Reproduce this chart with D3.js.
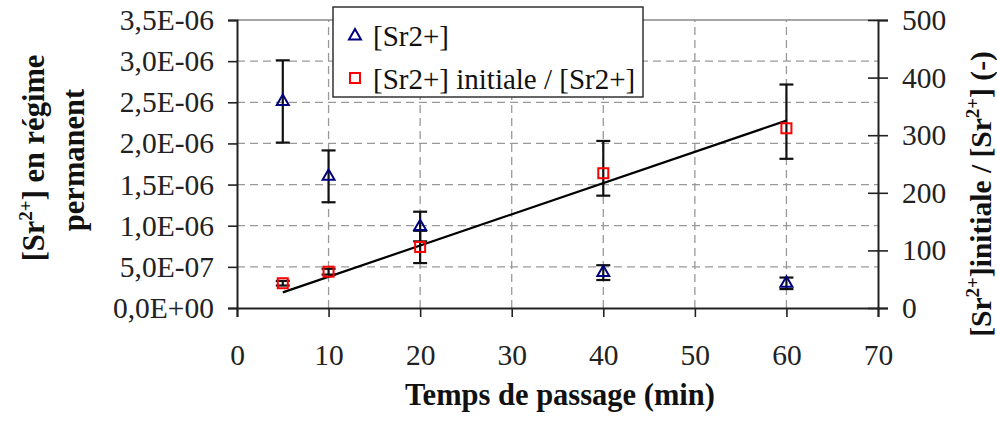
<!DOCTYPE html>
<html>
<head>
<meta charset="utf-8">
<script src="https://cdn.jsdelivr.net/npm/d3@7"></script>
<style>
  body { margin: 0; background: #fff; }
  text { font-family: 'Liberation Serif', serif; }
</style>
</head>
<body>
<div id="chart"></div>
<script>
// data
const times = [5, 10, 20, 40, 60];
const srConc = [2.51e-6, 1.6e-6, 0.99e-6, 4.3e-7, 3.0e-7];
const srErr = [0.5e-6, 0.315e-6, 0.18e-6, 0.09e-6, 0.07e-6];
const ratio = [43, 63, 106, 234, 312];
const ratioErrPlus = [4, 5, 28, 56, 76];
const ratioErrMinus = [4, 5, 28, 39, 53];

const xTicks = [0, 10, 20, 30, 40, 50, 60, 70];
const leftTicks = [0, 5e-7, 1e-6, 1.5e-6, 2e-6, 2.5e-6, 3e-6, 3.5e-6];
const rightTicks = [0, 100, 200, 300, 400, 500];

const W = 997, H = 423;
const FONT = 'Liberation Serif';
const svg = d3.select('#chart').append('svg')
    .attr('width', W)
    .attr('height', H);

const x = d3.scaleLinear().domain([0, 70]).range([237, 878]);
const yL = d3.scaleLinear().domain([0, 3.5e-6]).range([308, 20]);
const yR = d3.scaleLinear().domain([0, 500]).range([308, 20]);

// 3,5E-06 style labels
function sciFmt(v) {
    const [m, e] = v.toExponential(1).split('e');
    const n = +e;
    return m.replace('.', ',') + 'E' + (n < 0 ? '-' : '+') + String(Math.abs(n)).padStart(2, '0');
}

// grid
const grid = svg.append('g').attr('stroke', '#999').attr('stroke-width', 1.3).attr('stroke-dasharray', '8,5');
grid.selectAll('line.h')
    .data(leftTicks.filter(d => d > 0 && d < 3.5e-6))
    .enter().append('line')
    .attr('x1', x(0)).attr('x2', x(70))
    .attr('y1', d => yL(d)).attr('y2', d => yL(d));
grid.selectAll('line.v')
    .data(xTicks.filter(d => d > 0 && d < 70))
    .enter().append('line')
    .attr('y1', yL(0)).attr('y2', yL(3.5e-6))
    .attr('x1', d => x(d)).attr('x2', d => x(d));
svg.append('line')
    .attr('x1', x(0)).attr('x2', x(70))
    .attr('y1', yL(3.5e-6)).attr('y2', yL(3.5e-6))
    .attr('stroke', '#888').attr('stroke-width', 1.5);

// axes
const tickFont = 29.5;
const left = svg.append('g').attr('transform', `translate(${x(0)},0)`)
    .call(d3.axisLeft(yL).tickValues(leftTicks).tickFormat(sciFmt).tickSize(9).tickPadding(14));
const bottom = svg.append('g').attr('transform', `translate(0,${yL(0)})`)
    .call(d3.axisBottom(x).tickValues(xTicks).tickSize(9).tickPadding(27));
const right = svg.append('g').attr('transform', `translate(${x(70)},0)`)
    .call(d3.axisRight(yR).tickValues(rightTicks).tickSize(10).tickPadding(14));
right.selectAll('.tick line').attr('x1', -10);

[left, bottom, right].forEach(g => {
    g.attr('font-family', null);
    g.select('.domain').attr('stroke', '#222').attr('stroke-width', 2);
    g.selectAll('.tick line').attr('stroke', '#222').attr('stroke-width', 1.6);
    g.selectAll('.tick text')
        .style('font-family', FONT)
        .attr('font-size', tickFont)
        .attr('fill', '#222');
});

// error bars
const capW = 7;
function errorBars(vals, plus, minus, yScale) {
    const g = svg.append('g').attr('stroke', '#111').attr('stroke-width', 2.2).attr('fill', 'none');
    times.forEach((t, i) => {
        const cx = x(t), lo = yScale(vals[i] - minus[i]), hi = yScale(vals[i] + plus[i]);
        g.append('line').attr('x1', cx).attr('x2', cx).attr('y1', lo).attr('y2', hi);
        g.append('line').attr('x1', cx - capW).attr('x2', cx + capW).attr('y1', lo).attr('y2', lo);
        g.append('line').attr('x1', cx - capW).attr('x2', cx + capW).attr('y1', hi).attr('y2', hi);
    });
}
errorBars(ratio, ratioErrPlus, ratioErrMinus, yR);
errorBars(srConc, srErr, srErr, yL);

// trendline: least squares through the origin on the ratio series
const slope = d3.sum(times, (t, i) => t * ratio[i]) / d3.sum(times, t => t * t);
svg.append('line')
    .attr('x1', x(times[0])).attr('y1', yR(slope * times[0]))
    .attr('x2', x(times[times.length - 1])).attr('y2', yR(slope * times[times.length - 1]))
    .attr('stroke', '#000').attr('stroke-width', 2.2);

// markers
const tri = d3.symbol(d3.symbolTriangle, 62);
svg.append('g').selectAll('path')
    .data(times)
    .enter().append('path')
    .attr('d', tri)
    .attr('transform', (d, i) => `translate(${x(d)},${yL(srConc[i])})`)
    .attr('fill', 'none').attr('stroke', '#000080').attr('stroke-width', 2);

svg.append('g').selectAll('rect')
    .data(times)
    .enter().append('rect')
    .attr('x', d => x(d) - 5).attr('y', (d, i) => yR(ratio[i]) - 5)
    .attr('width', 10).attr('height', 10)
    .attr('fill', 'none').attr('stroke', '#ff0000').attr('stroke-width', 2);

// legend
const lg = svg.append('g');
lg.append('rect').attr('x', 333).attr('y', 7).attr('width', 310).attr('height', 90)
    .attr('fill', '#fff').attr('stroke', '#333').attr('stroke-width', 1.5);
lg.append('path').attr('d', tri).attr('transform', 'translate(355,36)')
    .attr('fill', 'none').attr('stroke', '#000080').attr('stroke-width', 2);
lg.append('rect').attr('x', 350).attr('y', 73).attr('width', 10).attr('height', 10)
    .attr('fill', 'none').attr('stroke', '#ff0000').attr('stroke-width', 2);
lg.append('text').attr('x', 373).attr('y', 46).attr('font-size', 29).attr('fill', '#111').text('[Sr2+]');
lg.append('text').attr('x', 373).attr('y', 89).attr('font-size', 29).attr('fill', '#111').text('[Sr2+] initiale / [Sr2+]');

// axis titles
const titleSize = 30.5;
svg.append('text')
    .attr('x', 560).attr('y', 405)
    .attr('text-anchor', 'middle')
    .attr('font-size', titleSize).attr('font-weight', 'bold').attr('fill', '#111')
    .text('Temps de passage (min)');

const lt = svg.append('text')
    .attr('transform', 'translate(44,158) rotate(-90)')
    .attr('text-anchor', 'middle')
    .attr('font-size', titleSize).attr('font-weight', 'bold').attr('fill', '#111');
lt.append('tspan').text('[Sr');
lt.append('tspan').attr('font-size', 19).attr('dy', -12).text('2+');
lt.append('tspan').attr('dy', 12).text('] en régime');

svg.append('text')
    .attr('transform', 'translate(84,160) rotate(-90)')
    .attr('text-anchor', 'middle')
    .attr('font-size', titleSize).attr('font-weight', 'bold').attr('fill', '#111')
    .text('permanent');

const rt = svg.append('text')
    .attr('transform', 'translate(991,194) rotate(-90)')
    .attr('text-anchor', 'middle')
    .attr('font-size', 29.5).attr('font-weight', 'bold').attr('fill', '#111');
rt.append('tspan').text('[Sr');
rt.append('tspan').attr('font-size', 19).attr('dy', -12).text('2+');
rt.append('tspan').attr('dy', 12).text(']initiale / [Sr');
rt.append('tspan').attr('font-size', 19).attr('dy', -12).text('2+');
rt.append('tspan').attr('dy', 12).text('] (-)');
</script>
</body>
</html>
